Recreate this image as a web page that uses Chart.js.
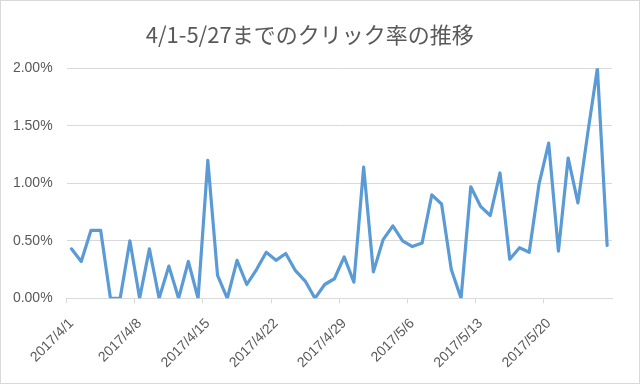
<!DOCTYPE html>
<html>
<head>
<meta charset="utf-8">
<script src="https://cdn.jsdelivr.net/npm/chart.js@4"></script>
<style>
  html, body { margin: 0; padding: 0; background: #fff; }
  #wrap { width: 640px; height: 384px; box-sizing: border-box; border: 1px solid #d9d9d9; background: #fff; }
  canvas { display: block; }
</style>
</head>
<body>
<div id="wrap"><canvas id="c" width="638" height="382"></canvas></div>
<script>
const titleText = '4/1-5/27までのクリック率の推移';

const categories = [
  '2017/4/1','2017/4/2','2017/4/3','2017/4/4','2017/4/5','2017/4/6','2017/4/7',
  '2017/4/8','2017/4/9','2017/4/10','2017/4/11','2017/4/12','2017/4/13','2017/4/14',
  '2017/4/15','2017/4/16','2017/4/17','2017/4/18','2017/4/19','2017/4/20','2017/4/21',
  '2017/4/22','2017/4/23','2017/4/24','2017/4/25','2017/4/26','2017/4/27','2017/4/28',
  '2017/4/29','2017/4/30','2017/5/1','2017/5/2','2017/5/3','2017/5/4','2017/5/5',
  '2017/5/6','2017/5/7','2017/5/8','2017/5/9','2017/5/10','2017/5/11','2017/5/12',
  '2017/5/13','2017/5/14','2017/5/15','2017/5/16','2017/5/17','2017/5/18','2017/5/19',
  '2017/5/20','2017/5/21','2017/5/22','2017/5/23','2017/5/24','2017/5/25','2017/5/26'
];

// click-through rate in percent
const clickRate = [
  0.43, 0.32, 0.59, 0.59, 0.00, 0.00, 0.50,
  0.00, 0.43, 0.00, 0.28, 0.00, 0.32, 0.00,
  1.20, 0.20, 0.00, 0.33, 0.12, 0.25, 0.40,
  0.33, 0.39, 0.24, 0.15, 0.00, 0.12, 0.17,
  0.36, 0.14, 1.14, 0.23, 0.51, 0.63, 0.50,
  0.45, 0.48, 0.90, 0.82, 0.25, 0.00, 0.97,
  0.80, 0.72, 1.09, 0.34, 0.44, 0.40, 0.99,
  1.35, 0.41, 1.22, 0.83, 1.43, 2.00, 0.46
];

const yTicks = [0, 0.5, 1.0, 1.5, 2.0];
const labelEvery = 7;

const textColor = '#595959';
const gridColor = '#d9d9d9';

const titlePlugin = {
  id: 'customTitle',
  afterDraw(chart) {
    const ctx = chart.ctx;
    ctx.save();
    ctx.fillStyle = textColor;
    ctx.font = '22px "Noto Sans CJK JP", sans-serif';
    ctx.textAlign = 'center';
    ctx.textBaseline = 'middle';
    ctx.fillText(titleText, 308.7, 34);
    ctx.restore();
  }
};

new Chart(document.getElementById('c'), {
  type: 'line',
  data: {
    labels: categories,
    datasets: [{
      label: 'クリック率',
      data: clickRate,
      borderColor: '#5B9BD5',
      borderWidth: 3.2,
      pointRadius: 0,
      pointHoverRadius: 0,
      tension: 0,
      fill: false,
      borderJoinStyle: 'round',
      borderCapStyle: 'round'
    }]
  },
  options: {
    responsive: false,
    animation: false,
    layout: { padding: { top: 67.3, right: 27, bottom: 0, left: 0 } },
    plugins: {
      legend: { display: false },
      title: { display: false },
      tooltip: { enabled: false }
    },
    scales: {
      x: {
        type: 'category',
        offset: true,
        border: { display: true, color: gridColor, width: 1 },
        grid: {
          offset: true,
          drawOnChartArea: false,
          drawTicks: true,
          tickLength: 5,
          tickWidth: 1,
          color: (ctx) => (ctx.index % labelEvery === 0 || ctx.index === categories.length) ? gridColor : 'rgba(0,0,0,0)',
          tickColor: (ctx) => (ctx.index % labelEvery === 0 || ctx.index === categories.length) ? gridColor : 'rgba(0,0,0,0)'
        },
        ticks: {
          autoSkip: false,
          maxRotation: 45,
          minRotation: 45,
          padding: 12,
          color: textColor,
          font: { family: '"Liberation Sans", Arial, sans-serif', size: 14 },
          callback: function(value, index) {
            return index % labelEvery === 0 ? categories[index] : '';
          }
        },
        afterFit: (scale) => { scale.height = 84.7; }
      },
      y: {
        min: 0,
        max: 2.0,
        border: { display: false },
        grid: { color: gridColor, lineWidth: 1, drawTicks: false },
        afterBuildTicks: (scale) => { scale.ticks = yTicks.map(v => ({ value: v })); },
        ticks: {
          padding: 14,
          color: textColor,
          font: { family: '"Liberation Sans", Arial, sans-serif', size: 14 },
          callback: (v) => Number(v).toFixed(2) + '%'
        },
        afterFit: (scale) => { scale.width = 65.6; }
      }
    }
  },
  plugins: [titlePlugin]
});
</script>
</body>
</html>
